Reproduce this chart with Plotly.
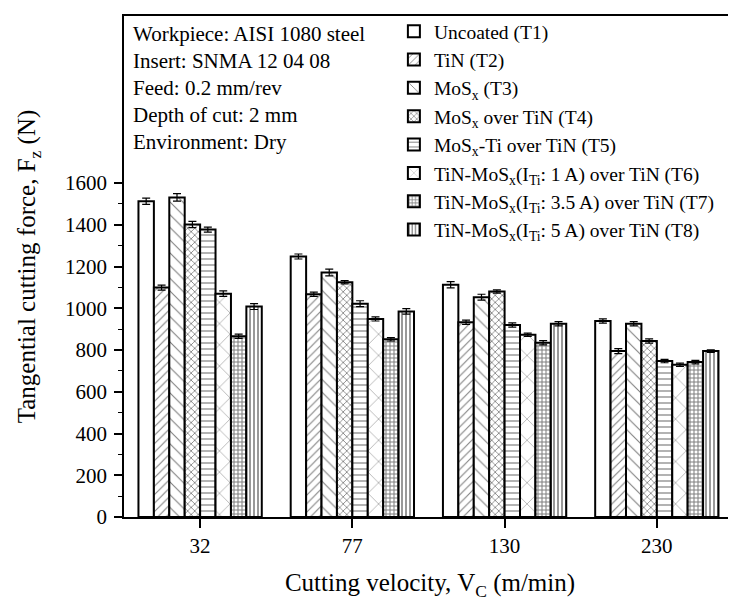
import plotly.graph_objects as go

# ---- data ----
velocities = ["32", "77", "130", "230"]
series_names = [
    "Uncoated (T1)",
    "TiN (T2)",
    "MoS<sub>x</sub> (T3)",
    "MoS<sub>x</sub> over TiN (T4)",
    "MoS<sub>x</sub>-Ti over TiN (T5)",
    "TiN-MoS<sub>x</sub>(I<sub>Ti</sub>: 1 A) over TiN (T6)",
    "TiN-MoS<sub>x</sub>(I<sub>Ti</sub>: 3.5 A) over TiN (T7)",
    "TiN-MoS<sub>x</sub>(I<sub>Ti</sub>: 5 A) over TiN (T8)",
]
T1 = [1513, 1248, 1113, 939]
T2 = [1099, 1067, 933, 795]
T3 = [1531, 1171, 1053, 926]
T4 = [1401, 1125, 1080, 843]
T5 = [1377, 1022, 920, 747]
T6 = [1070, 949, 873, 729]
T7 = [866, 851, 835, 742]
T8 = [1008, 985, 926, 795]
E1 = [15, 12, 15, 10]
E2 = [12, 10, 10, 12]
E3 = [18, 16, 14, 10]
E4 = [15, 8, 8, 10]
E5 = [12, 14, 10, 8]
E6 = [13, 10, 8, 8]
E7 = [10, 8, 10, 8]
E8 = [14, 13, 10, 6]
info_lines = [
    "Workpiece: AISI 1080 steel",
    "Insert: SNMA 12 04 08",
    "Feed: 0.2 mm/rev",
    "Depth of cut: 2 mm",
    "Environment: Dry",
]
y_ticks = [0, 200, 400, 600, 800, 1000, 1200, 1400, 1600]
y_minor = [100, 300, 500, 700, 900, 1100, 1300, 1500]

values = [T1, T2, T3, T4, T5, T6, T7, T8]
errors = [E1, E2, E3, E4, E5, E6, E7, E8]

# pattern styles (shape, size, solidity)
patterns = [
    ("", 8, 0.2),
    ("/", 6, 0.18),
    ("\\", 9, 0.12),
    ("x", 5, 0.3),
    ("-", 6, 0.2),
    ("x", 15, 0.07),
    ("+", 4, 0.45),
    ("|", 4, 0.4),
]

FONT = "Liberation Serif, Times New Roman, serif"

fig = go.Figure()
for name, vals, errs, (shape, size, sol) in zip(series_names, values, errors, patterns):
    fig.add_trace(go.Bar(
        x=velocities, y=vals, name=name, legendgroup=name,
        marker=dict(color="white",
                    line=dict(color="black", width=2),
                    pattern=dict(shape=shape, size=size, solidity=sol,
                                 fgcolor="black", bgcolor="white", fillmode="overlay")),
        error_y=dict(type="data", array=errs, visible=True, color="black",
                     thickness=1.2, width=4),
    ))

for i, line in enumerate(info_lines):
    ypx = 34 + i * 27
    fig.add_annotation(
        text=line, xref="paper", yref="paper",
        x=7 / 612, y=(517 - ypx) / 501,
        xanchor="left", yanchor="middle", showarrow=False,
        font=dict(family=FONT, size=21, color="black"),
    )

fig.update_layout(
    width=728, height=594,
    margin=dict(l=116, r=0, t=8, b=85, autoexpand=False),
    paper_bgcolor="white", plot_bgcolor="white",
    barmode="group", bargap=0.19, bargroupgap=0,
    font=dict(family=FONT, color="black"),
    showlegend=True,
    legend=dict(x=0.441, y=1.008, xanchor="left", yanchor="top",
                bgcolor="rgba(0,0,0,0)", borderwidth=0,
                font=dict(family=FONT, size=19.5, color="black"),
                tracegroupgap=0, traceorder="normal"),
)
fig.update_xaxes(
    type="category", range=[-0.5, 3.52], automargin=False,
    showline=True, linecolor="black", linewidth=1.5, mirror=True,
    ticks="outside", ticklen=9, tickwidth=1.5, tickcolor="black",
    tickfont=dict(family=FONT, size=21, color="black"),
    title=dict(text="Cutting velocity, V<sub>C</sub> (m/min)",
               font=dict(family=FONT, size=25, color="black"), standoff=17),
    showgrid=False,
)
fig.update_yaxes(
    range=[0, 2400], tickvals=y_ticks, automargin=False,
    showline=True, linecolor="black", linewidth=1.5, mirror=False,
    ticks="outside", ticklen=8, tickwidth=1.5, tickcolor="black",
    ticklabelstandoff=3,
    minor=dict(tickvals=y_minor, ticks="outside", ticklen=4, tickwidth=1.2, tickcolor="black"),
    tickfont=dict(family=FONT, size=21, color="black"),
    title=dict(text="Tangential cutting force, F<sub>z</sub> (N)",
               font=dict(family=FONT, size=25, color="black"), standoff=22),
    showgrid=False, zeroline=False,
)

fig.write_html("out.html")
